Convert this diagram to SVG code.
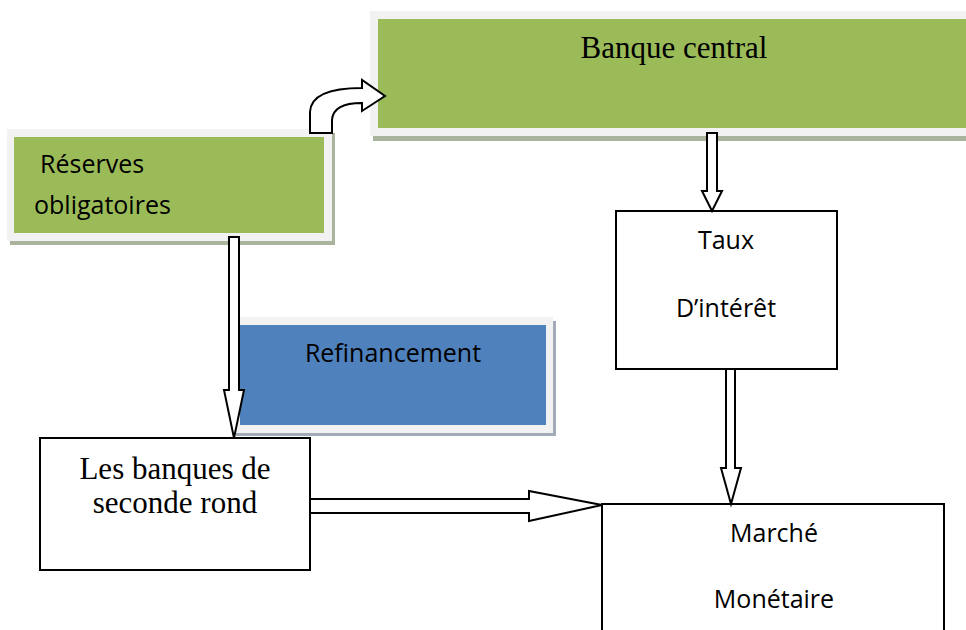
<svg xmlns="http://www.w3.org/2000/svg" width="966" height="630" viewBox="0 0 966 630">
  <style>
    .frame { fill: #f2f2f2; }
    .shadow-g { fill: #aab39c; }
    .shadow-b { fill: #a4abb8; }
    .green { fill: #9bbb59; }
    .blue { fill: #4f81bd; }
    .box { fill: #ffffff; stroke: #000000; stroke-width: 2; }
    .arrow { fill: #ffffff; stroke: #000000; stroke-width: 2; stroke-linejoin: miter; }
    .sans { font-family: "Open Sans", "Noto Sans", sans-serif; font-size: 25px; fill: #000000; }
    .serif { font-family: "Liberation Serif", "Times New Roman", serif; font-size: 31px; fill: #000000; }
  </style>

  <!-- Banque central -->
  <g id="banque-central">
    <rect class="shadow-g" x="373" y="15" width="600" height="126"/>
    <rect class="frame" x="370" y="11" width="600" height="125"/>
    <rect class="green" x="378" y="19" width="592" height="109"/>
    <text class="serif" x="674" y="58" text-anchor="middle">Banque central</text>
  </g>

  <!-- Réserves obligatoires -->
  <g id="reserves">
    <rect class="shadow-g" x="10" y="133" width="325" height="112"/>
    <rect class="frame" x="7" y="129" width="325" height="112"/>
    <rect class="green" x="14" y="137" width="310" height="96"/>
    <text class="sans" x="40" y="173">Réserves</text>
    <text class="sans" x="34" y="214">obligatoires</text>
  </g>

  <!-- Refinancement -->
  <g id="refinancement">
    <rect class="shadow-b" x="236" y="321" width="320" height="115"/>
    <rect class="frame" x="233" y="317" width="320" height="116"/>
    <rect class="blue" x="240" y="325" width="306" height="100"/>
    <text class="sans" x="393" y="362" text-anchor="middle">Refinancement</text>
  </g>

  <!-- Taux d'intérêt -->
  <g id="taux">
    <rect class="box" x="616" y="211" width="221" height="158"/>
    <text class="sans" x="726" y="249" text-anchor="middle" font-size="24">Taux</text>
    <text class="sans" x="726" y="317" text-anchor="middle" font-size="24">D’intérêt</text>
  </g>

  <!-- Les banques de seconde rond -->
  <g id="banques">
    <rect class="box" x="40" y="438" width="270" height="132"/>
    <text class="serif" x="175" y="479" text-anchor="middle">Les banques de</text>
    <text class="serif" x="175" y="513" text-anchor="middle">seconde rond</text>
  </g>

  <!-- Marché monétaire -->
  <g id="marche">
    <rect class="box" x="602" y="504" width="342" height="140"/>
    <text class="sans" x="774" y="542" text-anchor="middle">Marché</text>
    <text class="sans" x="774" y="608" text-anchor="middle">Monétaire</text>
  </g>

  <!-- Block arrows -->
  <g id="connectors">
    <!-- bent arrow: réserves to banque central -->
    <path class="arrow" d="M310,133 L310,112 Q311,88 362,88 L362,80 L385,96 L362,111 L362,103 Q333,103 332,120 L332,133 Z"/>
    <!-- banque central to taux -->
    <path class="arrow" d="M707,133 L717,133 L717,191 L722,191 L712,211 L702,191 L707,191 Z"/>
    <!-- réserves to banques -->
    <path class="arrow" d="M229,237 L239,237 L239,390 L244,390 L234,438 L224,390 L229,390 Z"/>
    <!-- taux to marché -->
    <path class="arrow" d="M726,369 L735,369 L735,468 L741,468 L731,504 L721,468 L726,468 Z"/>
    <!-- banques to marché -->
    <path class="arrow" d="M310,499 L529,499 L529,491 L602,505 L529,521 L529,513 L310,513 Z"/>
  </g>
</svg>
